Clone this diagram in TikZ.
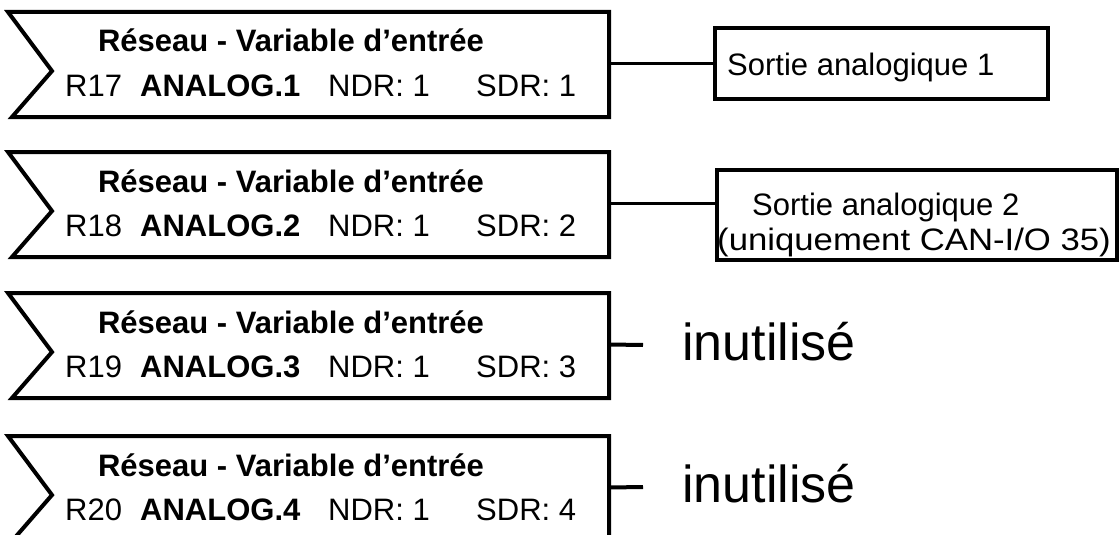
\documentclass[tikz,border=0pt]{standalone}
\usepackage{fontspec}
\setmainfont{Liberation Sans}
\begin{document}
\begin{tikzpicture}[x=1pt,y=-1pt,
  blk/.style={line width=4pt,line join=miter},
  conn/.style={line width=3pt},
  stub/.style={line width=4pt},
  txt/.style={inner sep=0pt,font=\fontsize{31}{37}\selectfont},
  big/.style={inner sep=0pt,font=\fontsize{52}{60}\selectfont},
  outbox/.style={draw,line width=4pt,inner sep=0pt}]
\useasboundingbox (0,0) rectangle (1119,535);
\foreach \t/\r/\a/\s/\n in {12/17/1/1/1,152/18/2/2/2,293/19/3/3/3,436/20/4/4/4}{
  \draw[blk] (8,\t) -- (609,\t) -- (609,\t+105) -- (12,\t+105) -- (52,\t+59) -- cycle;
  \node[txt,anchor=base,font=\fontsize{31}{37}\selectfont\bfseries] (title\n) at (291,\t+40) {Réseau - Variable d’entrée};
  \node[txt,anchor=base west] (reg\n) at (65,\t+84) {R\r};
  \node[txt,anchor=base west,font=\fontsize{31}{37}\selectfont\bfseries] (ana\n) at (140,\t+84) {ANALOG.\a};
  \node[txt,anchor=base west] (ndr\n) at (328,\t+84) {NDR: 1};
  \node[txt,anchor=base west] (sdr\n) at (476,\t+84) {SDR: \s};
  \coordinate (r\n) at (609,\t+51.5);
}
% output boxes
\node[outbox,minimum width=333pt,minimum height=71pt] (s1) at (881.5,63.5) {};
\node[txt,anchor=base west] (s1t) at (727,75) {Sortie analogique 1};
\node[outbox,minimum width=400pt,minimum height=90pt] (s2) at (917,215) {};
\node[txt,anchor=base west] (s2a) at (752,215) {Sortie analogique 2};
\node[txt,anchor=base west] (s2b) at (717,250) {\scalebox{1.12}[1]{(uniquement CAN-I/O 35)}};
\draw[conn] (r1) -- (r1 -| s1.west);
\draw[conn] (r2) -- (r2 -| s2.west);
% unused outputs
\coordinate (u3) at (643,345);
\coordinate (u4) at (643,487);
\draw[stub] (r3) -- (u3);
\draw[stub] (r4) -- (u4);
\node[big,anchor=base west] (n3) at (682,360) {inutilisé};
\node[big,anchor=base west] (n4) at (682,502) {inutilisé};
\end{tikzpicture}
\end{document}
